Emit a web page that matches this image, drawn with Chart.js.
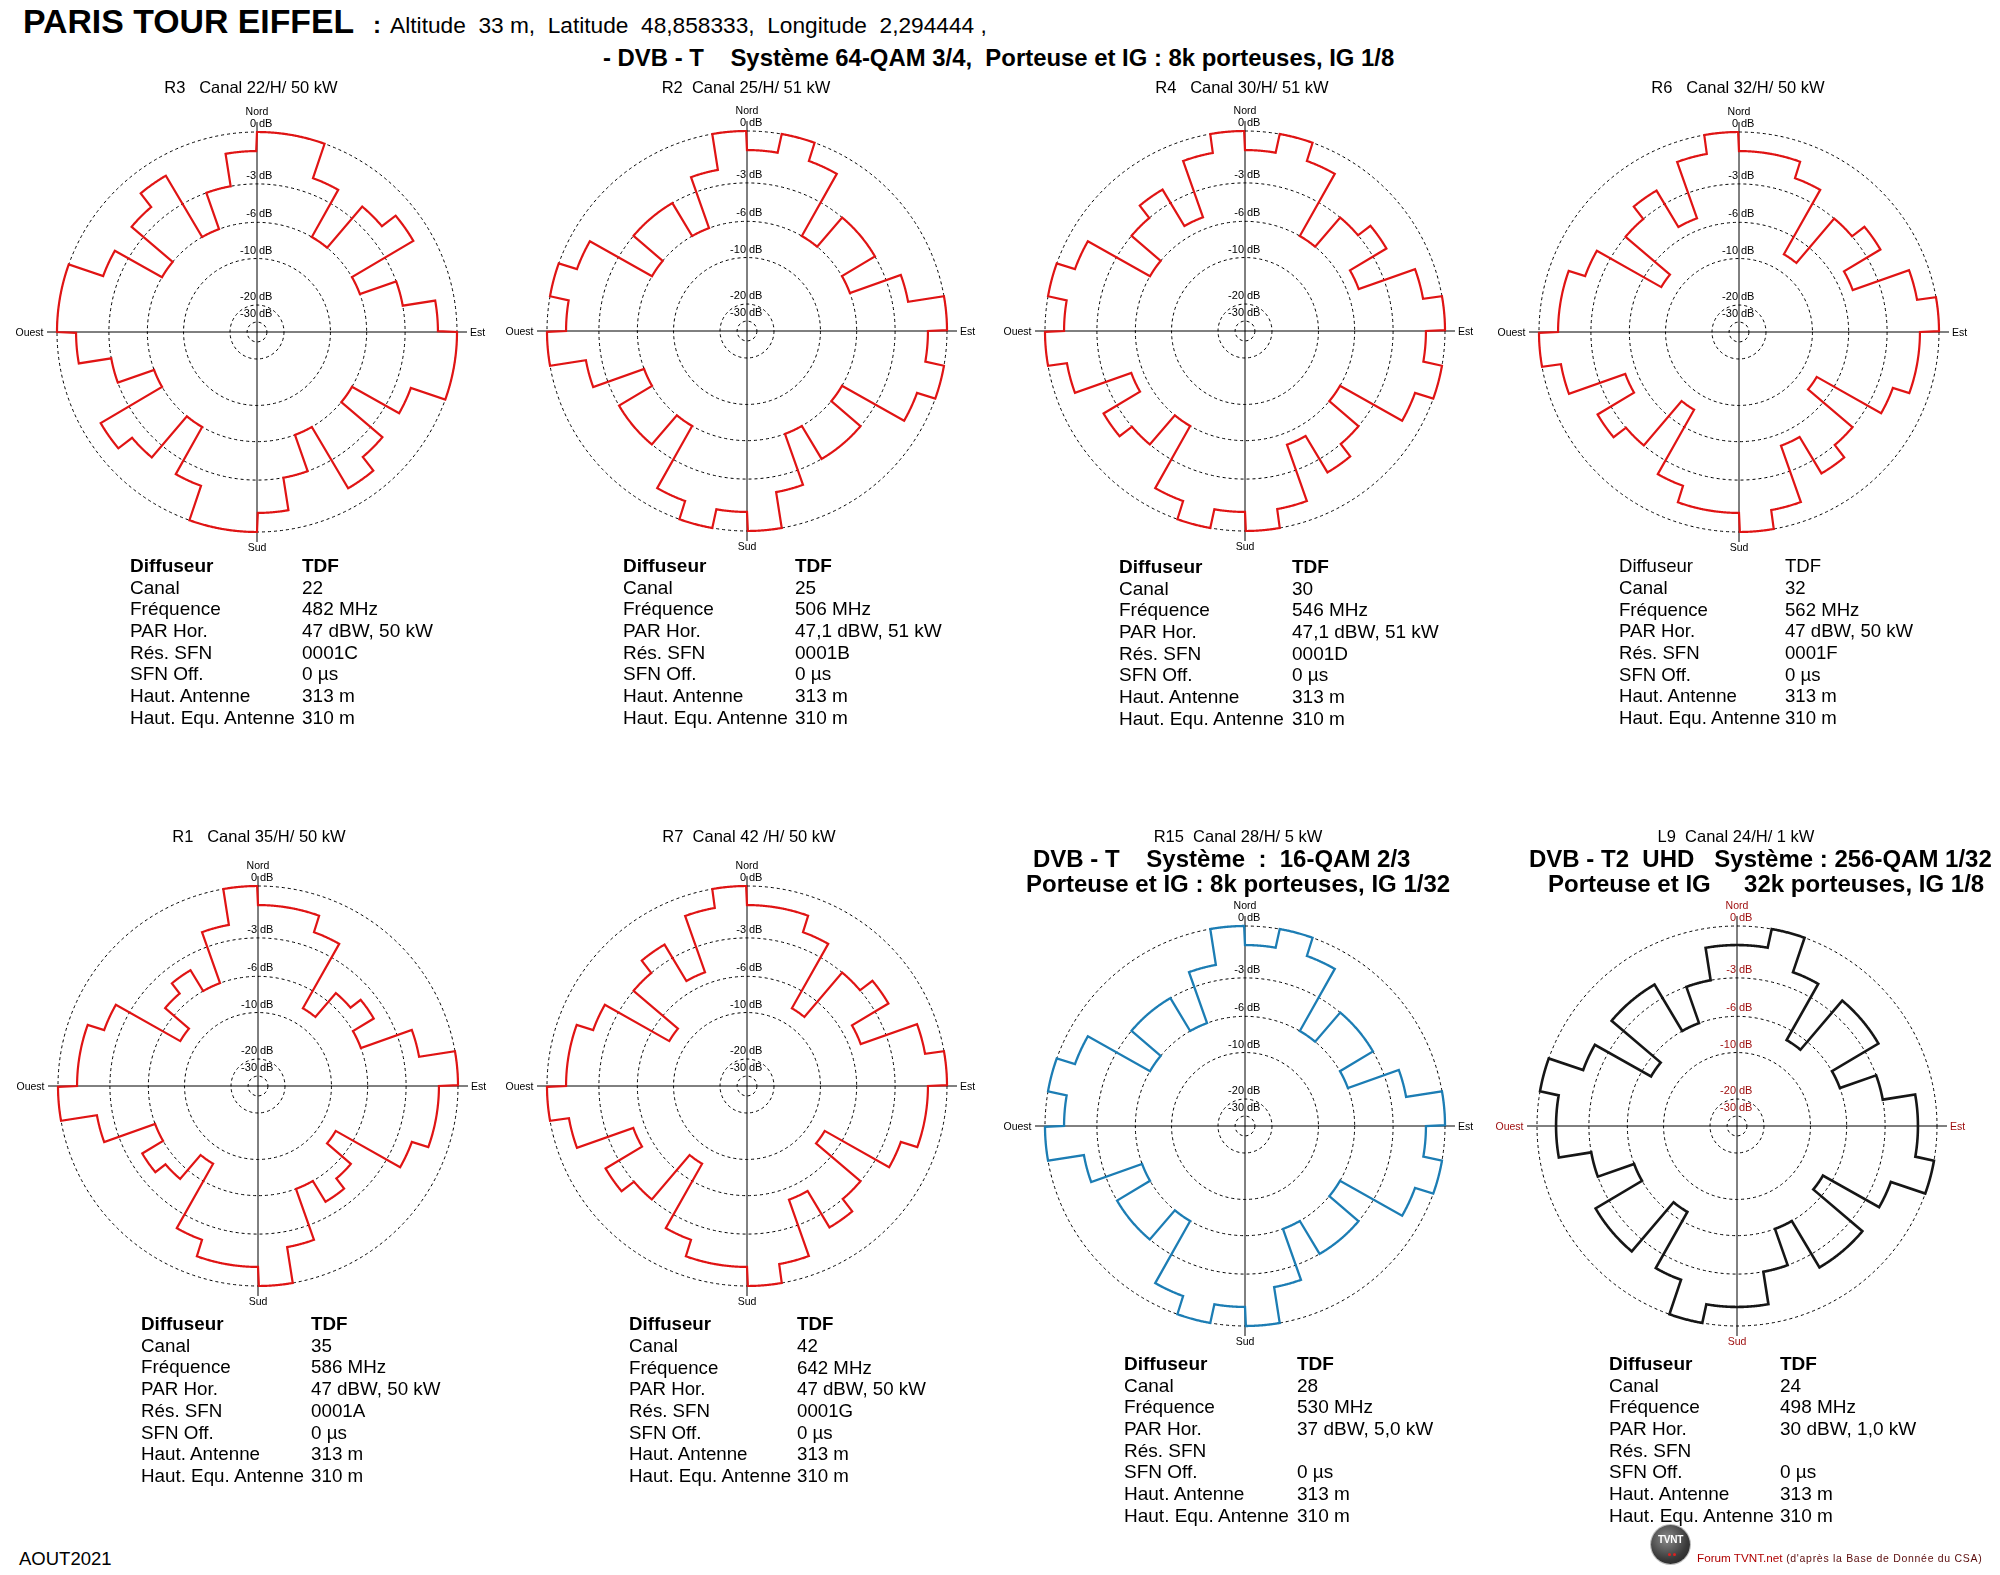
<!DOCTYPE html>
<html lang="fr">
<head>
<meta charset="utf-8">
<title>Paris Tour Eiffel - diagrammes d'antenne</title>
<script src="https://cdn.jsdelivr.net/npm/chart.js@4.4.1/dist/chart.umd.min.js"></script>
<style>
  html, body { margin: 0; padding: 0; background: #fff; }
  #page {
    position: relative; width: 2000px; height: 1575px; overflow: hidden;
    font-family: "Liberation Sans", Arial, Helvetica, sans-serif; color: #000;
  }
  .txt { position: absolute; white-space: pre; line-height: 1; }
  canvas.polar { position: absolute; }
  .logo {
    position: absolute; width: 39px; height: 39px; border-radius: 50%;
    background: radial-gradient(circle at 40% 35%, #8a8a8a, #3a3a3a 60%, #1e1e1e);
    box-shadow: 0 0 0 1px #bbb;
  }
  .logo b { position: absolute; left: 0; width: 39px; top: 9px; text-align: center; color: #fff; font-size: 10px; letter-spacing: -0.3px; }
  .logo i { position: absolute; width: 3px; height: 3px; border-radius: 50%; background: #e02020; top: 28px; }
</style>
</head>
<body>
<div id="page"></div>
<script>
// sector start azimuths (deg, clockwise from north), one value per 10° sector
const SECTORS = [0, 10, 20, 30, 40, 50, 60, 70, 80, 90, 100, 110, 120, 130, 140, 150, 160, 170,
  180, 190, 200, 210, 220, 230, 240, 250, 260, 270, 280, 290, 300, 310, 320, 330, 340, 350];

// relative level per sector, dB
const R3_DB = [0, 0, -2, -6, -2, -1, -6, -3, -1, 0, 0, -2, -6, -2, -1, -6, -3, -1,
  0, 0, -2, -6, -2, -1, -6, -3, -1, 0, 0, -2, -6, -2, -1, -6, -3, -1];
const R2_DB = [-1, 0, -1, -6, -3, -3, -6, -2, 0, -1, 0, -1, -6, -3, -3, -6, -2, 0,
  -1, 0, -1, -6, -3, -3, -6, -2, 0, -1, 0, -1, -6, -3, -3, -6, -2, 0];
const R4_DB = [-1, 0, -1, -6, -3, -2, -5, -1, 0, -1, 0, -1, -6, -3, -2, -5, -1, 0,
  -1, 0, -1, -6, -3, -2, -5, -1, 0, -1, 0, -1, -6, -3, -2, -5, -1, 0];
const R6_DB = [-1, -1, -2, -8, -3, -2, -5, -1, 0, -1, -1, -2, -8, -3, -2, -5, -1, 0,
  -1, -1, -2, -8, -3, -2, -5, -1, 0, -1, -1, -2, -8, -3, -2, -5, -1, 0];
const R1_DB = [-1, -1, -2, -8, -5, -4, -6, -2, 0, -1, -1, -2, -8, -5, -4, -6, -2, 0,
  -1, -1, -2, -8, -5, -4, -6, -2, 0, -1, -1, -2, -8, -5, -4, -6, -2, 0];
const R7_DB = [-1, -1, -2, -8, -3, -2, -5, -1, 0, -1, -1, -2, -8, -3, -2, -5, -1, 0,
  -1, -1, -2, -8, -3, -2, -5, -1, 0, -1, -1, -2, -8, -3, -2, -5, -1, 0];
const R15_DB = [-1, 0, -1, -6, -3, -3, -6, -2, 0, -1, 0, -1, -6, -3, -3, -6, -2, 0,
  -1, 0, -1, -6, -3, -3, -6, -2, 0, -1, 0, -1, -6, -3, -3, -6, -2, 0];
const L9_DB = [-1, 0, -2, -7, -2, -2, -6, -3, -1, -1, 0, -2, -7, -2, -2, -6, -3, -1,
  -1, 0, -2, -7, -2, -2, -6, -3, -1, -1, 0, -2, -7, -2, -2, -6, -3, -1];

// rings of the diagram
const RING_DB = [0, -3, -6, -10, -20, -30];
const COMPASS = ['Nord', 'Est', 'Sud', 'Ouest'];

const INFO_LABELS = ['Diffuseur', 'Canal', 'Fréquence', 'PAR Hor.', 'Rés. SFN', 'SFN Off.', 'Haut. Antenne', 'Haut. Equ. Antenne'];
const R3_INFO = ['TDF', '22', '482 MHz', '47 dBW, 50 kW', '0001C', '0 µs', '313 m', '310 m'];
const R2_INFO = ['TDF', '25', '506 MHz', '47,1 dBW, 51 kW', '0001B', '0 µs', '313 m', '310 m'];
const R4_INFO = ['TDF', '30', '546 MHz', '47,1 dBW, 51 kW', '0001D', '0 µs', '313 m', '310 m'];
const R6_INFO = ['TDF', '32', '562 MHz', '47 dBW, 50 kW', '0001F', '0 µs', '313 m', '310 m'];
const R1_INFO = ['TDF', '35', '586 MHz', '47 dBW, 50 kW', '0001A', '0 µs', '313 m', '310 m'];
const R7_INFO = ['TDF', '42', '642 MHz', '47 dBW, 50 kW', '0001G', '0 µs', '313 m', '310 m'];
const R15_INFO = ['TDF', '28', '530 MHz', '37 dBW, 5,0 kW', '', '0 µs', '313 m', '310 m'];
const L9_INFO = ['TDF', '24', '498 MHz', '30 dBW, 1,0 kW', '', '0 µs', '313 m', '310 m'];

// radial law of the plot: radius ~ field^0.87
const K_EXP = 0.87;
const R_MAX = 1.05;      // axes go a bit past the 0 dB ring
const STEP = 0.25;       // outline resolution in degrees

function dbToVal(db) {
  return Math.pow(10, K_EXP * db / 20);
}

const page = document.getElementById('page');

function addText(str, x, baseline, size, opts) {
  opts = opts || {};
  const el = document.createElement('div');
  el.className = 'txt';
  el.textContent = str;
  el.style.fontSize = size + 'px';
  el.style.top = (baseline - 0.8465 * size) + 'px';
  if (opts.center) {
    el.style.left = (x - 300) + 'px';
    el.style.width = '600px';
    el.style.textAlign = 'center';
  } else {
    el.style.left = x + 'px';
  }
  if (opts.bold) el.style.fontWeight = 'bold';
  if (opts.color) el.style.color = opts.color;
  page.appendChild(el);
  return el;
}

// ring labels and compass points, placed with the radial scale
const polarLabels = {
  id: 'polarLabels',
  afterDraw(chart, args, opts) {
    const r = chart.scales.r;
    const ctx = chart.ctx;
    const nLabels = chart.data.labels.length;
    ctx.save();
    ctx.fillStyle = opts.color;
    ctx.textBaseline = 'middle';
    ctx.font = '11px "Liberation Sans", Arial, sans-serif';
    RING_DB.forEach(db => {
      const y = r.yCenter - r.getDistanceFromCenterForValue(dbToVal(db)) - 8;
      ctx.textAlign = 'right';
      ctx.fillText(String(db), r.xCenter - 1, y);
      ctx.textAlign = 'left';
      ctx.fillText('dB', r.xCenter + 2, y);
    });

    const outer = r.getDistanceFromCenterForValue(r.max);
    ctx.font = '10.5px "Liberation Sans", Arial, sans-serif';
    const pads = [10, 3, 6, 3.5];
    const aligns = ['center', 'left', 'center', 'right'];
    COMPASS.forEach((name, q) => {
      const p = r.getPointPosition(q * nLabels / 4, outer + pads[q]);
      ctx.textAlign = aligns[q];
      ctx.fillText(name, p.x, p.y + (q % 2 ? 1.5 : 0));
    });
    ctx.restore();
  }
};

function drawPolar(cx, cy, dbArr, color, width, labelColor) {
  const canvas = document.createElement('canvas');
  canvas.className = 'polar';
  canvas.width = 500;
  canvas.height = 500;
  canvas.style.left = (cx - 250) + 'px';
  canvas.style.top = (cy - 250) + 'px';
  page.appendChild(canvas);

  const nPts = 360 / STEP;
  const azimuths = [];
  const values = [];
  for (let i = 0; i < nPts; i++) {
    const az = i * STEP;
    azimuths.push(String(az));
    values.push(dbToVal(dbArr[SECTORS.indexOf(Math.floor(az / 10) * 10)]));
  }
  const quarter = nPts / 4;

  return new Chart(canvas, {
    type: 'radar',
    data: {
      labels: azimuths,
      datasets: [{
        data: values,
        borderColor: color,
        borderWidth: width,
        fill: false,
        pointRadius: 0,
        pointHoverRadius: 0,
        tension: 0,
        borderJoinStyle: 'miter'
      }]
    },
    options: {
      responsive: false,
      animation: false,
      events: [],
      layout: { padding: 40 },
      plugins: {
        legend: { display: false },
        tooltip: { enabled: false },
        polarLabels: { color: labelColor }
      },
      scales: {
        r: {
          min: 0,
          max: R_MAX,
          startAngle: 0,
          afterBuildTicks: scale => {
            scale.ticks = [{ value: 0 }].concat(RING_DB.map(db => ({ value: dbToVal(db) })));
          },
          ticks: { display: false },
          pointLabels: { display: false },
          grid: { circular: true, color: '#000', lineWidth: 1 },
          border: { dash: [3, 3] },
          angleLines: {
            display: true,
            color: c => (c.index % quarter === 0 ? '#000' : 'rgba(0,0,0,0)'),
            lineWidth: c => (c.index % quarter === 0 ? 1 : 0)
          }
        }
      }
    },
    plugins: [polarLabels]
  });
}

function drawInfo(x, valueX, baseline, info, boldHead, size) {
  size = size || 19;
  INFO_LABELS.forEach((lab, i) => {
    const b = baseline + i * 21.7;
    addText(lab, x, b, size, { bold: boldHead && i === 0 });
    if (info[i]) addText(info[i], valueX, b, size, { bold: boldHead && i === 0 });
  });
}

// header
const head = addText('PARIS TOUR EIFFEL', 23, 34, 33.8, { bold: true });
const colon = document.createElement('span');
colon.textContent = ':';
colon.style.cssText = 'font-size:24px;margin-left:19px;';
const coords = document.createElement('span');
coords.textContent = 'Altitude  33 m,  Latitude  48,858333,  Longitude  2,294444 ,';
coords.style.cssText = 'font-size:22.7px;font-weight:normal;margin-left:9px;';
head.appendChild(colon);
head.appendChild(coords);
addText('- DVB - T    Système 64-QAM 3/4,  Porteuse et IG : 8k porteuses, IG 1/8', 603, 66, 23.9, { bold: true });

// diagrams
const RED = '#e01414';
drawPolar(257, 332, R3_DB, RED, 2.2, '#000');
drawPolar(747, 331, R2_DB, RED, 2.2, '#000');
drawPolar(1245, 331, R4_DB, RED, 2.2, '#000');
drawPolar(1739, 332, R6_DB, RED, 2.2, '#000');
drawPolar(258, 1086, R1_DB, RED, 2.2, '#000');
drawPolar(747, 1086, R7_DB, RED, 2.2, '#000');
drawPolar(1245, 1126, R15_DB, '#1c7db4', 2.3, '#000');
drawPolar(1737, 1126, L9_DB, '#161616', 2.6, '#9c0a0a');

// titles
addText('R3   Canal 22/H/ 50 kW', 251, 93, 16.5, { center: true });
addText('R2  Canal 25/H/ 51 kW', 746, 93, 16.5, { center: true });
addText('R4   Canal 30/H/ 51 kW', 1242, 93, 16.5, { center: true });
addText('R6   Canal 32/H/ 50 kW', 1738, 93, 16.5, { center: true });
addText('R1   Canal 35/H/ 50 kW', 259, 842, 16.5, { center: true });
addText('R7  Canal 42 /H/ 50 kW', 749, 842, 16.5, { center: true });
addText('R15  Canal 28/H/ 5 kW', 1238, 842, 16.5, { center: true });
addText('L9  Canal 24/H/ 1 kW', 1736, 842, 16.5, { center: true });

addText('DVB - T    Système  :  16-QAM 2/3', 1033, 867, 24, { bold: true });
addText('Porteuse et IG : 8k porteuses, IG 1/32', 1026, 892, 24, { bold: true });
addText('DVB - T2  UHD   Système : 256-QAM 1/32', 1529, 867, 24, { bold: true });
addText('Porteuse et IG     32k porteuses, IG 1/8', 1548, 892, 24, { bold: true });

// station details
drawInfo(130, 302, 572, R3_INFO, true);
drawInfo(623, 795, 572, R2_INFO, true);
drawInfo(1119, 1292, 573, R4_INFO, true);
drawInfo(1619, 1785, 573, R6_INFO, false, 18.6);
drawInfo(141, 311, 1331, R1_INFO, true, 18.8);
drawInfo(629, 797, 1331, R7_INFO, true, 18.7);
drawInfo(1124, 1297, 1370, R15_INFO, true);
drawInfo(1609, 1780, 1370, L9_INFO, true);

// footer
addText('AOUT2021', 19, 1566, 18.5);
const logo = document.createElement('div');
logo.className = 'logo';
logo.style.left = '1651px';
logo.style.top = '1525px';
logo.innerHTML = '<b>TVNT</b><i style="left:17px"></i><i style="left:22px"></i>';
page.appendChild(logo);
const forum = addText('Forum TVNT.net', 1697, 1562, 11.7, { color: '#b00000' });
const src = document.createElement('span');
src.textContent = " (d'après la Base de Donnée du CSA)";
src.style.cssText = 'font-size:10.5px;letter-spacing:0.7px;color:#5a0a0a;';
forum.appendChild(src);
</script>
</body>
</html>
